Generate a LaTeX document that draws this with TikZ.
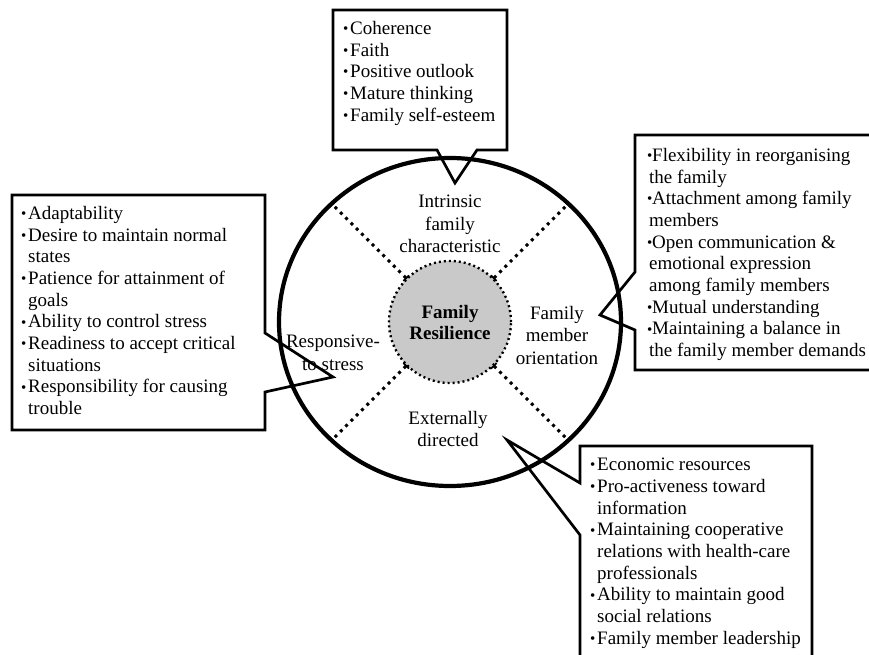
\documentclass[tikz,border=0pt]{standalone}
\usepackage{fontspec}
\setmainfont{Liberation Serif}
\usetikzlibrary{shapes.geometric,arrows.meta}

\newcommand{\dotitem}[1][7pt]{\makebox[#1][l]{\raisebox{0.8pt}{\fontsize{15}{15}\selectfont\textbullet}}}
\newcommand{\contline}[1][7pt]{\hspace*{#1}}

\begin{document}
\begin{tikzpicture}[
    x=1pt, y=-1pt,
    rim/.style={ellipse, draw, line width=4.2pt, minimum width=342pt, minimum height=328pt, inner sep=0pt, outer sep=0pt},
    core/.style={circle, draw, fill=gray!42, line width=2.4pt, dash pattern=on 2pt off 3pt, minimum size=122pt, inner sep=0pt, outer sep=0pt, align=center, font=\bfseries\fontsize{19}{21}\selectfont},
    spoke/.style={line width=3pt, dash pattern=on 3pt off 4.5pt, {Bar[width=8pt,line width=1.8pt]}-{Bar[width=8pt,line width=1.8pt]}},
    sector/.style={align=center, inner sep=0pt, font=\fontsize{19}{22.5}\selectfont},
    callout/.style={draw, line width=2.7pt, line join=miter},
    items/.style={align=left, inner sep=0pt, anchor=north west, font=\fontsize{19}{21.7}\selectfont}
]
    \useasboundingbox (0,0) rectangle (869,655);
    \clip (0,0) rectangle (869,655);

    % Wheel
    \node[rim] (rim) at (450,322) {};
    \node[core] (core) at (450,322) {Family\\Resilience};
    \foreach \a in {45,135,225,315}
        \draw[spoke] (core.\a) -- (rim.\a);

    \node[sector] (intr) at (450,224) {Intrinsic\\family\\characteristic};
    \node[sector] (resp) at (333,353) {Responsive-\\to stress};
    \node[sector] (memb) at (557,335) {Family\\member\\orientation};
    \node[sector] (extr) at (448,429) {Externally\\directed};

    % Callouts
    \draw[callout] (333,10) -- (507,10) -- (507,150) -- (477,150) -- (455,183) -- (437,150) -- (333,150) -- cycle;
    \draw[callout] (635,135) -- (880,135) -- (880,370) -- (635,370) -- (635,330) -- (600,315) -- (635,272) -- cycle;
    \draw[callout] (12,195) -- (265,195) -- (265,333) -- (333,377) -- (265,392) -- (265,430) -- (12,430) -- cycle;
    \draw[callout] (580,446) -- (812,446) -- (812,670) -- (580,670) -- (580,535) -- (507,440) -- (580,483) -- cycle;

    \node[items] (topitems) at (343,21) {\dotitem Coherence\\ \dotitem Faith\\ \dotitem Positive outlook\\
        \dotitem Mature thinking\\ \dotitem Family self-esteem};

    \node[items] (rightitems) at (647,148) {\dotitem[5pt]Flexibility in reorganising\\ \contline[2pt]the family\\
        \dotitem[5pt]Attachment among family\\ \contline[2pt]members\\
        \dotitem[5pt]Open communication \&\\ \contline[2pt]emotional expression\\ \contline[2pt]among family members\\
        \dotitem[5pt]Mutual understanding\\
        \dotitem[5pt]Maintaining a balance in\\ \contline[2pt]the family member demands};

    \node[items] (leftitems) at (21,206) {\dotitem Adaptability\\
        \dotitem Desire to maintain normal\\ \contline states\\
        \dotitem Patience for attainment of\\ \contline goals\\
        \dotitem Ability to control stress\\
        \dotitem Readiness to accept critical\\ \contline situations\\
        \dotitem Responsibility for causing\\ \contline trouble};

    \node[items] (lowitems) at (590,458) {\dotitem Economic resources\\
        \dotitem Pro-activeness toward\\ \contline information\\
        \dotitem Maintaining cooperative\\ \contline relations with health-care\\ \contline professionals\\
        \dotitem Ability to maintain good\\ \contline social relations\\
        \dotitem Family member leadership};
\end{tikzpicture}
\end{document}
